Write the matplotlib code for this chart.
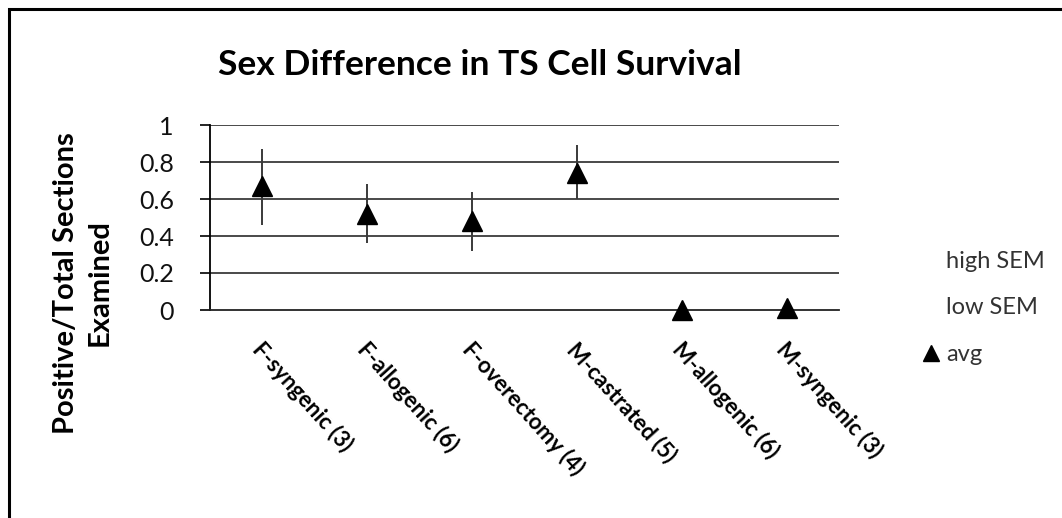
import matplotlib
matplotlib.use("Agg")
import matplotlib.pyplot as plt
from matplotlib.patches import Rectangle
import matplotlib.transforms as mtransforms

plt.rcParams['font.family'] = ['Lato', 'DejaVu Sans']

categories = ["F-syngenic (3)", "F-allogenic (6)", "F-overectomy (4)",
              "M-castrated (5)", "M-allogenic (6)", "M-syngenic (3)"]
high_sem = [0.87, 0.68, 0.64, 0.89, 0.0, 0.0]
low_sem = [0.46, 0.36, 0.32, 0.60, 0.0, 0.0]
avg = [0.67, 0.52, 0.48, 0.74, 0.0, 0.01]
yticks = [0, 0.2, 0.4, 0.6, 0.8, 1]
ytick_labels = ["0", "0.2", "0.4", "0.6", "0.8", "1"]

W, H = 1062, 518
fig = plt.figure(figsize=(W / 100, H / 100), dpi=100)
fig.patch.set_facecolor('white')

ax = fig.add_axes([210 / W, 1 - 310 / H, 629 / W, 185 / H])
x = list(range(len(categories)))

ax.set_xlim(-0.5, len(categories) - 0.5)
ax.set_ylim(0, 1)

for yv in yticks[1:]:
    ax.axhline(yv, color='#3a3a3a', lw=1.3, zorder=1)

ax.vlines(x, low_sem, high_sem, color='#3a3a3a', lw=1.4, zorder=2)
ax.plot(x, high_sem, linestyle='none', marker=None, label='high SEM')
ax.plot(x, low_sem, linestyle='none', marker=None, label='low SEM')
ax.plot(x, avg, linestyle='none', marker='^', ms=14, color='black',
        label='avg', zorder=3, clip_on=False)

for s in ['top', 'right']:
    ax.spines[s].set_visible(False)
ax.spines['left'].set_color('black')
ax.spines['bottom'].set_color('#222222')
ax.spines['left'].set_linewidth(1.3)
ax.spines['bottom'].set_linewidth(1.3)

ax.set_yticks(yticks)
ax.set_yticklabels(ytick_labels, fontsize=18, color='#111111')
ax.tick_params(axis='y', direction='out', length=7.5, width=1.2, pad=18.5)

ax.set_xticks(x)
ax.set_xticklabels(categories, rotation=-48, ha='left', va='center',
                   rotation_mode='anchor', fontsize=16, fontweight='bold')
ax.tick_params(axis='x', length=0, pad=26)
off = mtransforms.ScaledTranslation(-6 / 100, 0, fig.dpi_scale_trans)
for lbl in ax.get_xticklabels():
    lbl.set_transform(lbl.get_transform() + off)

fig.text(480 / W, 1 - 75 / H, "Sex Difference in TS Cell Survival",
         ha='center', va='baseline', fontsize=25.5, fontweight='bold')

fig.text(83 / W, 1 - 283 / H, "Positive/Total Sections\nExamined",
         rotation=90, ha='center', va='center', fontsize=21,
         fontweight='bold', multialignment='center', linespacing=1.35)

handles, labels = ax.get_legend_handles_labels()
fig.legend(handles, labels, loc='upper left',
           bbox_to_anchor=(921.2 / W, 1 - 250.5 / H), frameon=False,
           fontsize=17, handlelength=0.8, handletextpad=0.25,
           labelspacing=1.1, borderpad=0, borderaxespad=0, markerscale=0.85,
           labelcolor='#333333')

fig.patches.append(Rectangle((9 / W, -0.2), 1.2, 1.2 - 9 / H,
                             transform=fig.transFigure, fill=False,
                             lw=2.2, ec='black'))

fig.savefig("out.png", dpi=100, facecolor='white')
